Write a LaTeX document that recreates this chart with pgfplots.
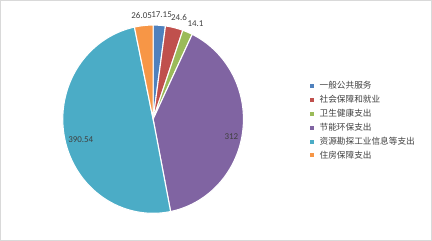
\documentclass[border=0pt]{standalone}
\usepackage{pgfplots}
\usepackage{pgfplotstable}
\pgfplotsset{compat=1.18}
\usepackage{fontspec}
\setmainfont{Carlito}
\newfontfamily\cjk{Noto Sans CJK SC}
\definecolor{cA}{HTML}{4F81BD}
\definecolor{cB}{HTML}{C0504D}
\definecolor{cC}{HTML}{9BBB59}
\definecolor{cD}{HTML}{8064A2}
\definecolor{cE}{HTML}{4BACC6}
\definecolor{cF}{HTML}{F79646}
\definecolor{lbl}{HTML}{404040}
\pgfplotstableread{
id value
1 17.15
2 24.6
3 14.1
4 312
5 390.54
6 26.05
}\piedata
\pgfplotstablegetelem{0}{value}\of\piedata\let\vA\pgfplotsretval
\pgfplotstablegetelem{1}{value}\of\piedata\let\vB\pgfplotsretval
\pgfplotstablegetelem{2}{value}\of\piedata\let\vC\pgfplotsretval
\pgfplotstablegetelem{3}{value}\of\piedata\let\vD\pgfplotsretval
\pgfplotstablegetelem{4}{value}\of\piedata\let\vE\pgfplotsretval
\pgfplotstablegetelem{5}{value}\of\piedata\let\vF\pgfplotsretval
\pgfmathsetmacro\tot{\vA+\vB+\vC+\vD+\vE+\vF}
\pgfmathsetmacro\aO{90}
\pgfmathsetmacro\aA{\aO-360*(\vA/\tot)}
\pgfmathsetmacro\aB{\aA-360*(\vB/\tot)}
\pgfmathsetmacro\aC{\aB-360*(\vC/\tot)}
\pgfmathsetmacro\aD{\aC-360*(\vD/\tot)}
\pgfmathsetmacro\aE{\aD-360*(\vE/\tot)}
\pgfmathsetmacro\aF{\aE-360*(\vF/\tot)}
\def\cx{153}
\def\cy{121}
\def\rx{90.5}
\def\ry{94.3}
\begin{document}
\begin{tikzpicture}
\begin{axis}[
  width=432bp, height=240bp, scale only axis,
  xmin=0, xmax=432, ymin=0, ymax=240,
  ticks=none,
  axis line style={draw=black!15, line width=0.8pt},
  legend cell align=left,
  legend image code/.code={\fill[#1,draw=none] (0pt,-2pt) rectangle (4pt,2pt);\path[draw=none,fill=none] (0pt,0pt) -- (8.5pt,0pt);},
  legend style={draw=none, fill=none, at={(axis cs:310,160)}, anchor=north west,
    font=\cjk\fontsize{8.7}{10}\selectfont, text=lbl, row sep=2.7pt, inner sep=0pt,
    nodes={inner sep=1.2pt}},
  every axis plot/.append style={draw=white, line width=1.1pt, samples=40, variable=\t},
]
\addplot[fill=cA, domain=\aA:\aO] ({\cx+\rx*cos(t)},{\cy+\ry*sin(t)}) -- (axis cs:\cx,\cy) -- cycle;
\addlegendentry{一般公共服务}
\addplot[fill=cB, domain=\aB:\aA] ({\cx+\rx*cos(t)},{\cy+\ry*sin(t)}) -- (axis cs:\cx,\cy) -- cycle;
\addlegendentry{社会保障和就业}
\addplot[fill=cC, domain=\aC:\aB] ({\cx+\rx*cos(t)},{\cy+\ry*sin(t)}) -- (axis cs:\cx,\cy) -- cycle;
\addlegendentry{卫生健康支出}
\addplot[fill=cD, domain=\aD:\aC, samples=120] ({\cx+\rx*cos(t)},{\cy+\ry*sin(t)}) -- (axis cs:\cx,\cy) -- cycle;
\addlegendentry{节能环保支出}
\addplot[fill=cE, domain=\aE:\aD, samples=140] ({\cx+\rx*cos(t)},{\cy+\ry*sin(t)}) -- (axis cs:\cx,\cy) -- cycle;
\addlegendentry{资源勘探工业信息等支出}
\addplot[fill=cF, domain=\aF:\aE] ({\cx+\rx*cos(t)},{\cy+\ry*sin(t)}) -- (axis cs:\cx,\cy) -- cycle;
\addlegendentry{住房保障支出}
\begin{scope}[every node/.style={font=\fontsize{9}{10}\selectfont, text=lbl, inner sep=0pt}]
\node at (axis cs:141.5,225) {26.05};
\node at (axis cs:161.5,225.5) {17.15};
\node at (axis cs:179,223) {24.6};
\node at (axis cs:195.5,217) {14.1};
\node at (axis cs:231.5,104) {312};
\node at (axis cs:80.5,101) {390.54};
\end{scope}
\end{axis}
\end{tikzpicture}
\end{document}
